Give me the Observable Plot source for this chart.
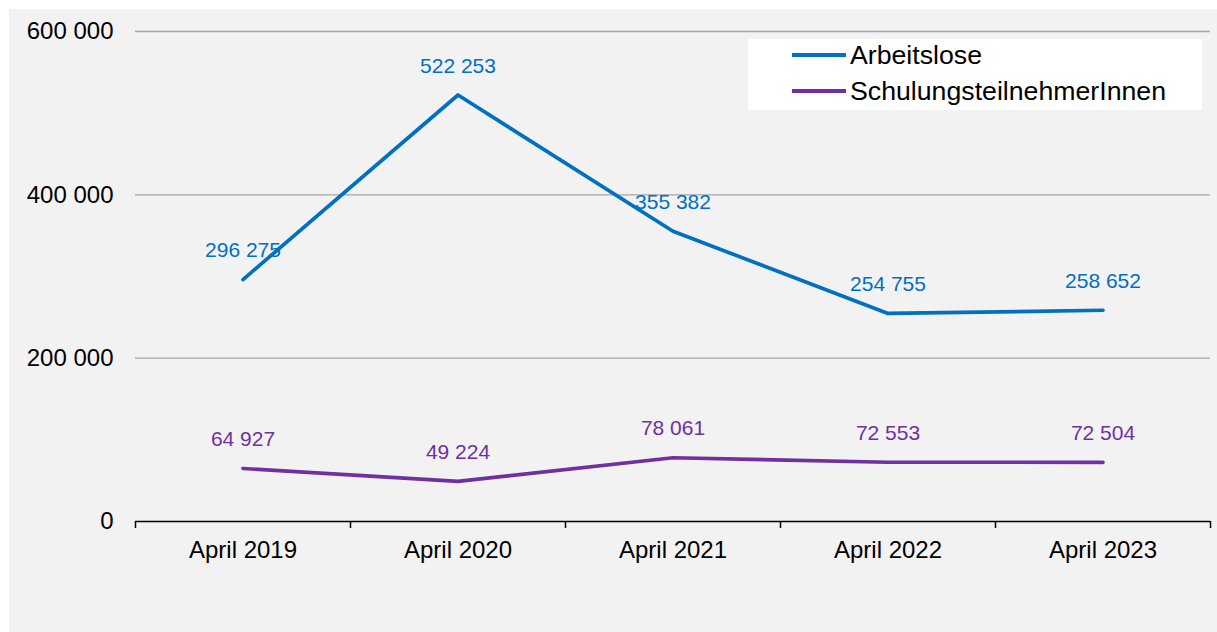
<!DOCTYPE html>
<html>
<head>
<meta charset="utf-8">
<script src="https://cdn.jsdelivr.net/npm/d3@7"></script>
<script src="https://cdn.jsdelivr.net/npm/@observablehq/plot@0.6"></script>
<style>
  html, body { margin: 0; padding: 0; background: #ffffff; }
  #wrap { position: relative; padding: 9px 0 0 9px; width: 1208px; height: 623px; }
  #wrap svg { display: block; }
  #legend { position: absolute; left: 748px; top: 39px; width: 454px; height: 71px; background: #ffffff;
            font-family: "Liberation Sans", Arial, sans-serif; font-size: 26.7px; color: #000; }
  .row { position: absolute; left: 44px; height: 30px; display: flex; align-items: center; }
  .sw { width: 54px; height: 3.5px; margin-right: 4px; }
</style>
</head>
<body>
<div id="wrap"><div id="legend"></div></div>
<script>
const periods = ["April 2019", "April 2020", "April 2021", "April 2022", "April 2023"];
const arbeitslose = [296275, 522253, 355382, 254755, 258652];
const schulung = [64927, 49224, 78061, 72553, 72504];
const yTicks = [0, 200000, 400000, 600000];
const seriesNames = ["Arbeitslose", "SchulungsteilnehmerInnen"];
const seriesColors = ["#0070C0", "#7030A0"];

const fmt = d => d3.format(",")(d).replace(/,/g, " ");

const rows = [];
periods.forEach((p, i) => {
  rows.push({series: seriesNames[0], period: p, x: i + 0.5, value: arbeitslose[i]});
});
periods.forEach((p, i) => {
  rows.push({series: seriesNames[1], period: p, x: i + 0.5, value: schulung[i]});
});

const chart = Plot.plot({
  width: 1208,
  height: 623,
  marginLeft: 126,
  marginRight: 7,
  marginTop: 22,
  marginBottom: 111,
  style: {background: "#f2f2f2", fontFamily: "'Liberation Sans', Arial, sans-serif", color: "#000", fontSize: "24px"},
  x: {domain: [0, periods.length], axis: null},
  y: {domain: [0, 600000], axis: null},
  color: {domain: seriesNames, range: seriesColors},
  marks: [
    Plot.gridY(yTicks.filter(d => d > 0), {stroke: "#a6a6a6", strokeOpacity: 1, strokeWidth: 1.3}),
    Plot.axisY(yTicks, {tickSize: 0, tickPadding: 22, tickFormat: fmt, fontSize: 24, fill: "#000", label: null}),
    Plot.ruleY([0], {stroke: "#000", strokeWidth: 1.5}),
    Plot.axisX(d3.range(periods.length + 1), {tickSize: 7, tickFormat: () => "", stroke: "#000", strokeWidth: 1.5, label: null}),
    Plot.axisX(periods.map((p, i) => i + 0.5), {tickSize: 0, tickPadding: 19, tickFormat: d => periods[Math.floor(d)], fontSize: 24, fill: "#000", label: null}),
    Plot.line(rows, {x: "x", y: "value", z: "series", stroke: "series", strokeWidth: 3.7, strokeLinejoin: "round"}),
    Plot.text(rows, {x: "x", y: "value", text: d => fmt(d.value), fill: "series", dy: -29, fontSize: 21})
  ]
});
document.getElementById("wrap").appendChild(chart);

const legend = document.getElementById("legend");
seriesNames.forEach((name, i) => {
  const row = document.createElement("div");
  row.className = "row";
  row.style.top = (i === 0 ? 1 : 37) + "px";
  const sw = document.createElement("div");
  sw.className = "sw";
  sw.style.background = seriesColors[i];
  const t = document.createElement("span");
  t.textContent = name;
  row.appendChild(sw);
  row.appendChild(t);
  legend.appendChild(row);
});
</script>
</body>
</html>
